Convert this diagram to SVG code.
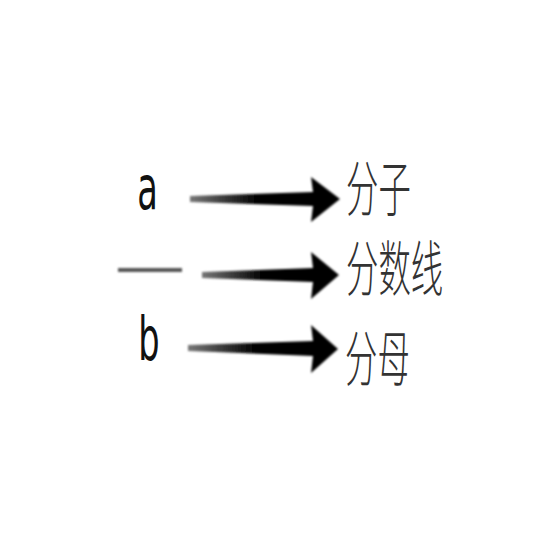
<svg xmlns="http://www.w3.org/2000/svg" width="536" height="536" viewBox="0 0 536 536">
<style>
.lat{font-family:"DejaVu Sans","Liberation Sans",sans-serif;font-size:60px;fill:#111}
.cjk{font-family:"Noto Sans CJK SC","Noto Sans",sans-serif;font-size:60px;font-weight:300;fill:#333}
.arr{fill:url(#g)}
</style>
<defs>
<linearGradient id="g" x1="0" y1="0" x2="1" y2="0">
<stop offset="0" stop-color="#777"/>
<stop offset="0.45" stop-color="#000"/>
<stop offset="1" stop-color="#000"/>
</linearGradient>
<filter id="b" filterUnits="userSpaceOnUse" x="0" y="0" width="536" height="536"><feGaussianBlur stdDeviation="0.9"/></filter>
</defs>
<rect width="536" height="536" fill="#fff"/>
<g id="numerator"><text class="lat" transform="translate(147.5,209) scale(0.56,1)" text-anchor="middle">a</text></g>
<g id="fractionbar"><rect x="118" y="268" width="64" height="4" fill="#555" filter="url(#b)"/></g>
<g id="denominator"><text class="lat" transform="translate(149,360) scale(0.56,1)" text-anchor="middle">b</text></g>
<g id="label-numerator"><text class="cjk" transform="translate(346,211) scale(0.54,1)">分子</text></g>
<g id="label-bar"><text class="cjk" transform="translate(346,291) scale(0.54,1)">分数线</text></g>
<g id="label-denominator"><text class="cjk" transform="translate(345,381) scale(0.54,1)">分母</text></g>
<g id="connectors" filter="url(#b)">
<polygon class="arr" points="190,196 313,192 311,177 340,199 311,222 313,206 190,202"/>
<polygon class="arr" points="202,272 313,268 311,252 339,275 311,299 313,282 202,278"/>
<polygon class="arr" points="188,345 313,341 311,325 338,349 311,373 313,356 188,351"/>
</g>
</svg>
